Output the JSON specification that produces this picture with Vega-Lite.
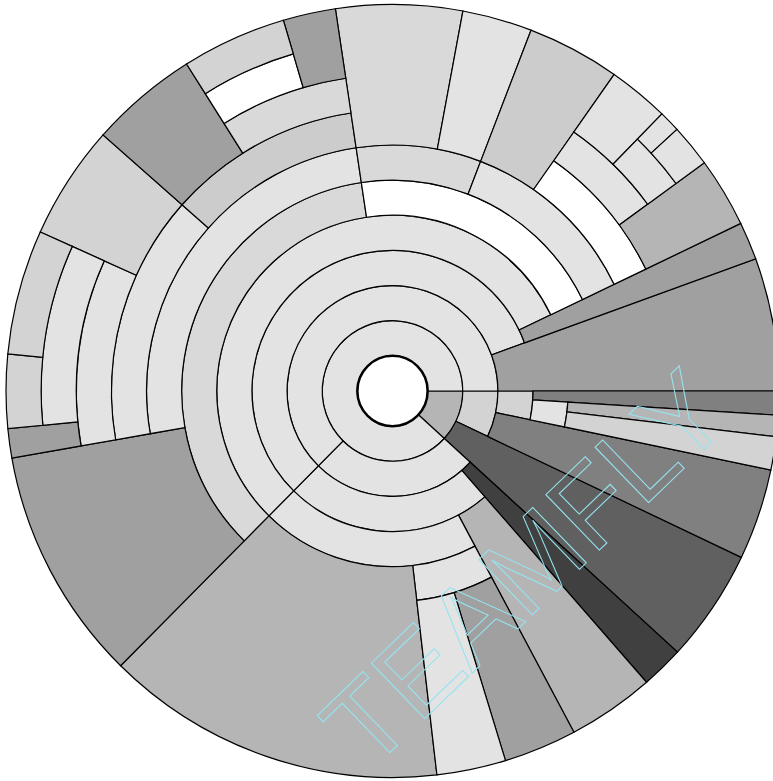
{
  "$schema": "https://vega.github.io/schema/vega-lite/v6.json",
  "width": 785,
  "height": 782,
  "autosize": "none",
  "padding": 0,
  "background": "white",
  "view": {"stroke": null},
  "datasets": {
    "nodes": [
      {"t0": 90, "t1": 132.5, "d0": 1, "d1": 2, "shade": "b5"},
      {"t0": 132.5, "t1": 450, "d0": 1, "d1": 2, "shade": "e3"},
      {"t0": 90, "t1": 115.5, "d0": 2, "d1": 3, "shade": "d3"},
      {"t0": 115.5, "t1": 132.5, "d0": 2, "d1": 11, "shade": "60"},
      {"t0": 132.5, "t1": 224.7, "d0": 2, "d1": 3, "shade": "e3"},
      {"t0": 224.7, "t1": 450, "d0": 2, "d1": 3, "shade": "e3"},
      {"t0": 90, "t1": 101.8, "d0": 3, "d1": 4, "shade": "d3"},
      {"t0": 101.8, "t1": 115.5, "d0": 3, "d1": 11, "shade": "80"},
      {"t0": 132.5, "t1": 138.9, "d0": 3, "d1": 11, "shade": "40"},
      {"t0": 138.9, "t1": 224.7, "d0": 3, "d1": 4, "shade": "e3"},
      {"t0": 224.7, "t1": 430, "d0": 3, "d1": 4, "shade": "e3"},
      {"t0": 430, "t1": 450, "d0": 3, "d1": 11, "shade": "a0"},
      {"t0": 90, "t1": 93.6, "d0": 4, "d1": 11, "shade": "80"},
      {"t0": 93.6, "t1": 101.8, "d0": 4, "d1": 5, "shade": "e3"},
      {"t0": 138.9, "t1": 152, "d0": 4, "d1": 11, "shade": "b5"},
      {"t0": 152, "t1": 224.7, "d0": 4, "d1": 5, "shade": "e3"},
      {"t0": 224.7, "t1": 424.3, "d0": 4, "d1": 5, "shade": "e3"},
      {"t0": 424.3, "t1": 430, "d0": 4, "d1": 11, "shade": "a0"},
      {"t0": 93.6, "t1": 96.8, "d0": 5, "d1": 11, "shade": "b5"},
      {"t0": 96.8, "t1": 101.8, "d0": 5, "d1": 11, "shade": "d3"},
      {"t0": 152, "t1": 173.4, "d0": 5, "d1": 6, "shade": "e3"},
      {"t0": 173.4, "t1": 224.7, "d0": 5, "d1": 11, "shade": "b5"},
      {"t0": 224.7, "t1": 351.5, "d0": 5, "d1": 6, "shade": "d9"},
      {"t0": 351.5, "t1": 424.3, "d0": 5, "d1": 6, "shade": "white"},
      {"t0": 152, "t1": 163, "d0": 6, "d1": 11, "shade": "a0"},
      {"t0": 163, "t1": 173.4, "d0": 6, "d1": 11, "shade": "e3"},
      {"t0": 224.7, "t1": 260, "d0": 6, "d1": 11, "shade": "a0"},
      {"t0": 260, "t1": 351.5, "d0": 6, "d1": 7, "shade": "e3"},
      {"t0": 351.5, "t1": 381, "d0": 6, "d1": 7, "shade": "d9"},
      {"t0": 381, "t1": 424.3, "d0": 6, "d1": 7, "shade": "e3"},
      {"t0": 260, "t1": 311.5, "d0": 7, "d1": 8, "shade": "e3"},
      {"t0": 311.5, "t1": 351.5, "d0": 7, "d1": 8, "shade": "cc"},
      {"t0": 351.5, "t1": 370.5, "d0": 7, "d1": 11, "shade": "d9"},
      {"t0": 370.5, "t1": 381, "d0": 7, "d1": 11, "shade": "e3"},
      {"t0": 381, "t1": 395, "d0": 7, "d1": 11, "shade": "cc"},
      {"t0": 395, "t1": 424.3, "d0": 7, "d1": 8, "shade": "white"},
      {"t0": 260, "t1": 294.3, "d0": 8, "d1": 9, "shade": "e3"},
      {"t0": 294.3, "t1": 311.5, "d0": 8, "d1": 11, "shade": "d3"},
      {"t0": 311.5, "t1": 327.8, "d0": 8, "d1": 11, "shade": "a0"},
      {"t0": 327.8, "t1": 351.5, "d0": 8, "d1": 9, "shade": "d9"},
      {"t0": 395, "t1": 413.8, "d0": 8, "d1": 9, "shade": "e3"},
      {"t0": 413.8, "t1": 424.3, "d0": 8, "d1": 11, "shade": "b5"},
      {"t0": 260, "t1": 264.4, "d0": 9, "d1": 11, "shade": "a0"},
      {"t0": 264.4, "t1": 294.3, "d0": 9, "d1": 10, "shade": "e3"},
      {"t0": 327.8, "t1": 343.6, "d0": 9, "d1": 10, "shade": "white"},
      {"t0": 343.6, "t1": 351.5, "d0": 9, "d1": 11, "shade": "a0"},
      {"t0": 395, "t1": 404.2, "d0": 9, "d1": 11, "shade": "e3"},
      {"t0": 404.2, "t1": 413.8, "d0": 9, "d1": 10, "shade": "e3"},
      {"t0": 264.4, "t1": 275.5, "d0": 10, "d1": 11, "shade": "d3"},
      {"t0": 275.5, "t1": 294.3, "d0": 10, "d1": 11, "shade": "d3"},
      {"t0": 327.8, "t1": 343.6, "d0": 10, "d1": 11, "shade": "d3"},
      {"t0": 404.2, "t1": 407.4, "d0": 10, "d1": 11, "shade": "e3"},
      {"t0": 407.4, "t1": 413.8, "d0": 10, "d1": 11, "shade": "e3"}
    ],
    "center": [{"t0": 0, "t1": 360, "d0": 0, "d1": 1}],
    "watermark": [{"label": "TEAMFLY", "a": 143.1, "r": 6.43}]
  },
  "layer": [
    {
      "data": {"name": "nodes"},
      "mark": {"type": "arc", "stroke": "black", "strokeWidth": 1.2},
      "encoding": {
        "theta": {"field": "t0", "type": "quantitative", "stack": null, "scale": {"type": "linear", "domain": [0, 360], "range": [0, 6.283185307179586]}},
        "theta2": {"field": "t1"},
        "radius": {"field": "d0", "type": "quantitative", "scale": {"type": "linear", "domain": [0, 11], "range": [0, 386.5], "zero": true}},
        "radius2": {"field": "d1"},
        "fill": {
          "field": "shade",
          "type": "nominal",
          "legend": null,
          "scale": {
            "domain": ["white", "e3", "d9", "d3", "cc", "b5", "a0", "80", "60", "40"],
            "range": ["#ffffff", "#e3e3e3", "#d9d9d9", "#d3d3d3", "#cccccc", "#b5b5b5", "#a0a0a0", "#808080", "#606060", "#404040"]
          }
        }
      }
    },
    {
      "data": {"name": "center"},
      "mark": {"type": "arc", "fill": "white", "stroke": "black", "strokeWidth": 2.5},
      "encoding": {
        "theta": {"field": "t0", "type": "quantitative", "stack": null},
        "theta2": {"field": "t1"},
        "radius": {"field": "d0", "type": "quantitative"},
        "radius2": {"field": "d1"}
      }
    },
    {
      "data": {"name": "watermark"},
      "mark": {"type": "text", "angle": 316, "fontSize": 112, "font": "Liberation Sans", "fill": "white", "fillOpacity": 0, "stroke": "#94e4f0", "strokeWidth": 1, "align": "center", "baseline": "middle"},
      "encoding": {
        "theta": {"field": "a", "type": "quantitative", "stack": null},
        "radius": {"field": "r", "type": "quantitative"},
        "text": {"field": "label"}
      }
    }
  ]
}
